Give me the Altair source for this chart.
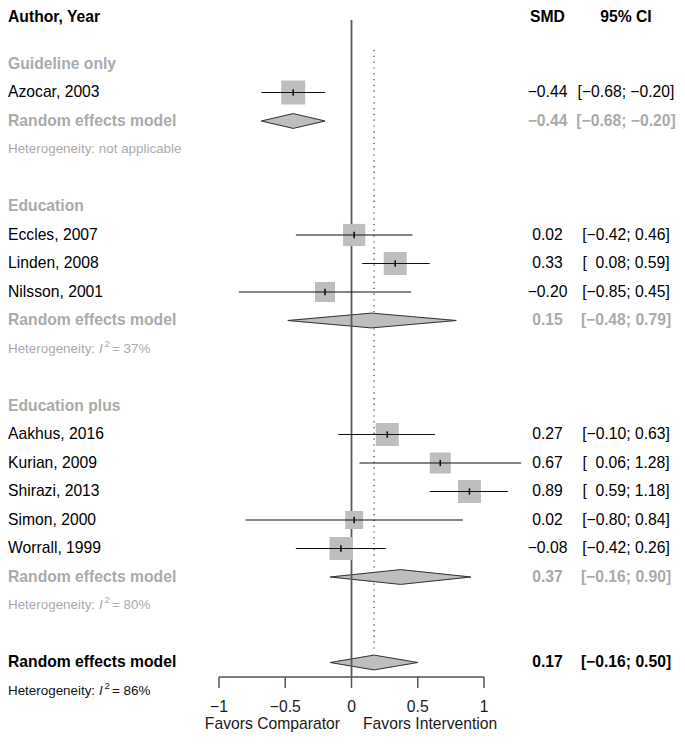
import altair as alt
import pandas as pd

FONT = "Liberation Sans"
MINUS = "\u2212"

# ---------------- data ----------------
group_names = ["Guideline only", "Education", "Education plus"]
group_rows = [0, 5, 12]

study_labels = ["Azocar, 2003", "Eccles, 2007", "Linden, 2008", "Nilsson, 2001",
                "Aakhus, 2016", "Kurian, 2009", "Shirazi, 2013", "Simon, 2000",
                "Worrall, 1999"]
study_rows = [1, 6, 7, 8, 13, 14, 15, 16, 17]
study_smd = [-0.44, 0.02, 0.33, -0.20, 0.27, 0.67, 0.89, 0.02, -0.08]
study_lo = [-0.68, -0.42, 0.08, -0.85, -0.10, 0.06, 0.59, -0.80, -0.42]
study_hi = [-0.20, 0.46, 0.59, 0.45, 0.63, 1.28, 1.18, 0.84, 0.26]
study_weight = [13.3, 11.4, 12.2, 9.2, 12.2, 10.2, 12.2, 7.5, 12.2]

pooled_rows = [2, 9, 18, 21]
pooled_smd = [-0.44, 0.15, 0.37, 0.17]
pooled_lo = [-0.68, -0.48, -0.16, -0.16]
pooled_hi = [-0.20, 0.79, 0.90, 0.50]
pooled_label = "Random effects model"

het_rows = [3, 10, 19, 22]
het_i2 = [None, "37%", "80%", "86%"]

axis_ticks = [-1, -0.5, 0, 0.5, 1]
axis_tick_labels = [MINUS + "1", MINUS + "0.5", "0", "0.5", "1"]
label_left = "Favors Comparator"
label_right = "Favors Intervention"
overall_est = pooled_smd[-1]

# ---------------- helpers ----------------
def fmt(v):
    s = f"{abs(v):.2f}"
    return MINUS + s if v < 0 else s

def fmt_ci(lo, hi):
    lo_s = fmt(lo) if lo < 0 else "\u2007" + fmt(lo)
    return f"[{lo_s}; {fmt(hi)}]"

W, H = 669, 724
ROW_PX = 28.5
xs = alt.Scale(domain=[-2.5925, 2.4566], nice=False, zero=False)
ys = alt.Scale(domain=[-1.9649, 23.4386], nice=False, zero=False, reverse=True)
X = lambda f: alt.X(f, scale=xs, axis=None)
Y = lambda f: alt.Y(f, scale=ys, axis=None)

GRAY_TXT = "#ababab"
BLACK = "#000000"
FS = 15.7
FS_HET = 13.4
SMD_X, CI_X = 539.5, 618

studies = pd.DataFrame({"label": study_labels, "row": study_rows, "smd": study_smd,
                        "lo": study_lo, "hi": study_hi, "w": study_weight})
studies["smd_txt"] = [fmt(v) for v in study_smd]
studies["ci_txt"] = [fmt_ci(a, b) for a, b in zip(study_lo, study_hi)]
studies["t0"] = studies["row"] - 0.11
studies["t1"] = studies["row"] + 0.11

pooled = pd.DataFrame({"row": pooled_rows, "smd": pooled_smd, "lo": pooled_lo, "hi": pooled_hi})
pooled["label"] = pooled_label
pooled["smd_txt"] = [fmt(v) for v in pooled_smd]
pooled["ci_txt"] = [fmt_ci(a, b) for a, b in zip(pooled_lo, pooled_hi)]
sub_pooled = pooled.iloc[:-1]
ovr_pooled = pooled.iloc[-1:]

# diamonds: filled with a trail (width 0 -> full -> 0), outlined with a closed line
HALF = 0.26
trail_rows, outline_rows = [], []
for i, (r, e, lo, hi) in enumerate(zip(pooled_rows, pooled_smd, pooled_lo, pooled_hi)):
    g = f"d{i}"
    trail_rows += [{"g": g, "o": 0, "x": lo, "y": r, "wd": 0.0},
                   {"g": g, "o": 1, "x": e, "y": r, "wd": 2 * HALF},
                   {"g": g, "o": 2, "x": hi, "y": r, "wd": 0.0}]
    outline_rows += [{"g": g, "o": 0, "x": lo, "y": r},
                     {"g": g, "o": 1, "x": e, "y": r - HALF},
                     {"g": g, "o": 2, "x": hi, "y": r},
                     {"g": g, "o": 3, "x": e, "y": r + HALF},
                     {"g": g, "o": 4, "x": lo, "y": r}]
trail_df = pd.DataFrame(trail_rows)
outline_df = pd.DataFrame(outline_rows)

groups = pd.DataFrame({"label": group_names, "row": group_rows})

het_main, het_i, het_sup, het_val = [], [], [], []
for r, v in zip(het_rows, het_i2):
    grp = "ovr" if r == het_rows[-1] else "sub"
    if v is None:
        het_main.append({"row": r, "t": "Heterogeneity: not applicable", "grp": grp})
    else:
        het_main.append({"row": r, "t": "Heterogeneity:", "grp": grp})
        het_i.append({"row": r, "t": "I", "grp": grp})
        het_sup.append({"row": r, "t": "2", "grp": grp})
        het_val.append({"row": r, "t": "= " + v, "grp": grp})
het_main = pd.DataFrame(het_main)
het_i = pd.DataFrame(het_i)
het_sup = pd.DataFrame(het_sup)
het_val = pd.DataFrame(het_val)

ticks_df = pd.DataFrame({"v": axis_ticks, "lab": axis_tick_labels})


def txt(df, field, x, align="left", color=BLACK, bold=False, size=FS, style="normal", dy=0):
    return alt.Chart(df).mark_text(
        align=align, baseline="middle", font=FONT, fontSize=size,
        fontWeight="bold" if bold else "normal", fontStyle=style, color=color, dy=dy
    ).encode(x=x, y=Y("row:Q"), text=f"{field}:N")


def het_layers(df_sel, color):
    out = []
    for df, field, xpos, size, style, dy in [
        (het_main, "t", 0, FS_HET, "normal", 0),
        (het_i, "t", 91, FS_HET, "italic", 0),
        (het_sup, "t", 96.5, 9.5, "normal", -5),
        (het_val, "t", 104, FS_HET, "normal", 0),
    ]:
        d = df[df["grp"] == df_sel]
        if len(d):
            out.append(txt(d, field, alt.value(xpos), color=color, size=size, style=style, dy=dy))
    return out


base_one = pd.DataFrame({"v": [overall_est], "z": [0.0]})

dotted = alt.Chart(base_one).mark_rule(color="#333333", strokeWidth=1.2, strokeDash=[1.2, 4.6]).encode(
    x=X("v:Q"), y=alt.value(42), y2=alt.value(643))

diamond_fill = alt.Chart(trail_df).mark_trail(color="#bebebe", opacity=1).encode(
    x=X("x:Q"), y=Y("y:Q"), detail="g:N", order="o:Q",
    size=alt.Size("wd:Q", scale=alt.Scale(domain=[0, 1], range=[0, ROW_PX]), legend=None))

diamond_outline = alt.Chart(outline_df).mark_line(color="#333333", strokeWidth=1).encode(
    x=X("x:Q"), y=Y("y:Q"), detail="g:N", order="o:Q")

zero_line = alt.Chart(base_one).mark_rule(color="#5a5a5a", strokeWidth=1.8).encode(
    x=X("z:Q"), y=alt.value(12), y2=alt.value(669))

squares = alt.Chart(studies).mark_square(color="#bebebe", opacity=1, strokeWidth=0).encode(
    x=X("smd:Q"), y=Y("row:Q"),
    size=alt.Size("w:Q", scale=alt.Scale(domain=[0, 13.3], range=[0, 576]), legend=None))

ci_lines = alt.Chart(studies).mark_rule(color="#111111", strokeWidth=1.2).encode(
    x=X("lo:Q"), x2="hi:Q", y=Y("row:Q"))

centre_ticks = alt.Chart(studies).mark_rule(color="#111111", strokeWidth=1.6).encode(
    x=X("smd:Q"), y=Y("t0:Q"), y2="t1:Q")

axis_df = pd.DataFrame({"a": [axis_ticks[0]], "b": [axis_ticks[-1]]})
axis_line = alt.Chart(axis_df).mark_rule(color="#555555", strokeWidth=1.5).encode(
    x=X("a:Q"), x2="b:Q", y=alt.value(669))
axis_ticks_m = alt.Chart(ticks_df).mark_rule(color="#555555", strokeWidth=1.5).encode(
    x=X("v:Q"), y=alt.value(669), y2=alt.value(680))
axis_labels = alt.Chart(ticks_df).mark_text(
    font=FONT, fontSize=FS, color="#1a1a1a", baseline="middle", align="center"
).encode(x=X("v:Q"), y=alt.value(699), text="lab:N")

fav_df = pd.DataFrame({"l": [label_left], "r": [label_right]})
fav_left = alt.Chart(fav_df).mark_text(font=FONT, fontSize=FS, color="#1a1a1a", align="right",
                                       baseline="middle").encode(
    x=alt.value(332), y=alt.value(716), text="l:N")
fav_right = alt.Chart(fav_df).mark_text(font=FONT, fontSize=FS, color="#1a1a1a", align="left",
                                        baseline="middle").encode(
    x=alt.value(355), y=alt.value(716), text="r:N")

hdr_df = pd.DataFrame({"a": ["Author, Year"], "b": ["SMD"], "c": ["95% CI"]})
hdr_a = alt.Chart(hdr_df).mark_text(font=FONT, fontSize=FS, fontWeight="bold", align="left",
                                    baseline="middle", color=BLACK).encode(
    x=alt.value(0), y=alt.value(9), text="a:N")
hdr_b = alt.Chart(hdr_df).mark_text(font=FONT, fontSize=FS, fontWeight="bold", align="center",
                                    baseline="middle", color=BLACK).encode(
    x=alt.value(SMD_X), y=alt.value(9), text="b:N")
hdr_c = alt.Chart(hdr_df).mark_text(font=FONT, fontSize=FS, fontWeight="bold", align="center",
                                    baseline="middle", color=BLACK).encode(
    x=alt.value(CI_X), y=alt.value(9), text="c:N")

layers = [
    dotted, diamond_fill, diamond_outline, zero_line, squares, ci_lines, centre_ticks,
    axis_line, axis_ticks_m, axis_labels, fav_left, fav_right,
    hdr_a, hdr_b, hdr_c,
    txt(groups, "label", alt.value(0), color=GRAY_TXT, bold=True),
    txt(studies, "label", alt.value(0)),
    txt(sub_pooled, "label", alt.value(0), color=GRAY_TXT, bold=True),
    txt(ovr_pooled, "label", alt.value(0), bold=True),
    txt(studies, "smd_txt", alt.value(SMD_X), align="center"),
    txt(studies, "ci_txt", alt.value(CI_X), align="center"),
    txt(sub_pooled, "smd_txt", alt.value(SMD_X), align="center", color=GRAY_TXT, bold=True),
    txt(sub_pooled, "ci_txt", alt.value(CI_X), align="center", color=GRAY_TXT, bold=True),
    txt(ovr_pooled, "smd_txt", alt.value(SMD_X), align="center", bold=True),
    txt(ovr_pooled, "ci_txt", alt.value(CI_X), align="center", bold=True),
] + het_layers("sub", GRAY_TXT) + het_layers("ovr", "#111111")

chart = alt.layer(*layers).resolve_scale(size="independent").properties(
    width=W, height=H, padding=0, autosize=alt.AutoSizeParams(type="none")
).configure_view(stroke=None)

chart.save("out.html", embed_options={"renderer": "svg", "actions": False})
